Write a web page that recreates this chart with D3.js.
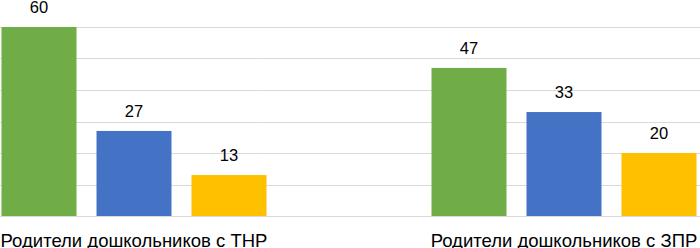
<!DOCTYPE html>
<html>
<head>
<meta charset="utf-8">
<script src="https://cdn.jsdelivr.net/npm/d3@7"></script>
<style>
  body { margin: 0; background: #fff; }
  svg { display: block; font-family: "Liberation Sans", Arial, sans-serif; }
</style>
</head>
<body>
<div id="chart"></div>
<script>
// данные
var categories = ["Родители дошкольников с ТНР", "Родители дошкольников с ЗПР"];
var seriesNames = ["s1", "s2", "s3"];
var seriesValues = [
  [60, 47],
  [27, 33],
  [13, 20]
];
var colors = ["#70AD47", "#4472C4", "#FFC000"];
var gridTicks = [0, 10, 20, 30, 40, 50, 60];

var width = 700, height = 248;

var svg = d3.select("#chart").append("svg")
  .attr("width", width)
  .attr("height", height);

var y = d3.scaleLinear()
  .domain([0, 60])
  .range([216, 27]);

var x0 = d3.scaleBand()
  .domain(categories)
  .range([-81, 779]);

var x1 = d3.scaleBand()
  .domain(seriesNames)
  .range([-132.5, 132.5])
  .paddingInner(0.2105);

// сетка
svg.append("g")
  .selectAll("line")
  .data(gridTicks)
  .enter().append("line")
  .attr("x1", 0)
  .attr("x2", width)
  .attr("y1", function(d) { return Math.round(y(d)) + 0.5; })
  .attr("y2", function(d) { return Math.round(y(d)) + 0.5; })
  .attr("stroke", "#D9D9D9")
  .attr("stroke-width", 1);

// построить плоские данные
var flat = [];
categories.forEach(function(c, i) {
  seriesNames.forEach(function(s, j) {
    flat.push({cat: c, ser: s, value: seriesValues[j][i], color: colors[j]});
  });
});

var groupX = function(d) { return x0(d.cat) + x0.bandwidth() / 2 + x1(d.ser); };

svg.selectAll(".bar")
  .data(flat)
  .enter().append("rect")
  .attr("class", "bar")
  .attr("x", groupX)
  .attr("y", function(d) { return y(d.value); })
  .attr("width", x1.bandwidth())
  .attr("height", function(d) { return y(0) - y(d.value); })
  .attr("fill", function(d) { return d.color; });

svg.selectAll(".val")
  .data(flat)
  .enter().append("text")
  .attr("class", "val")
  .attr("x", function(d) { return groupX(d) + x1.bandwidth() / 2; })
  .attr("y", function(d) { return y(d.value) - 14; })
  .attr("text-anchor", "middle")
  .attr("font-size", "16.5px")
  .attr("fill", "#000")
  .text(function(d) { return d.value; });

// подписи категорий
svg.selectAll(".cat")
  .data(categories)
  .enter().append("text")
  .attr("class", "cat")
  .attr("x", function(d) { return x0(d) + x0.bandwidth() / 2; })
  .attr("y", 246.5)
  .attr("text-anchor", "middle")
  .attr("font-size", "18.5px")
  .attr("fill", "#000")
  .text(function(d) { return d; });
</script>
</body>
</html>
